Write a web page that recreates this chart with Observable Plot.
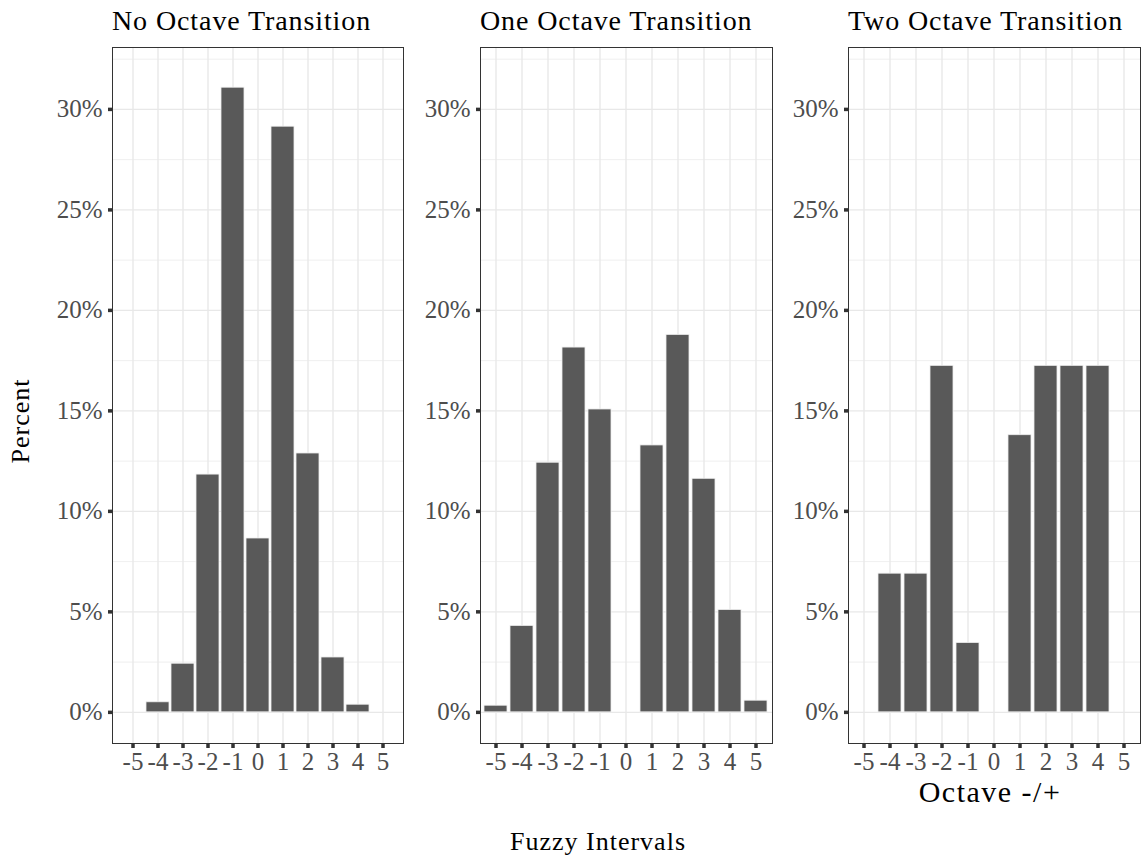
<!DOCTYPE html>
<html><head><meta charset="utf-8">
<script src="https://cdn.jsdelivr.net/npm/d3@7"></script>
<script src="https://cdn.jsdelivr.net/npm/@observablehq/plot@0.6"></script>
<style>
html,body{margin:0;padding:0;background:#fff;}
#wrap{position:relative;width:1145px;height:858px;overflow:hidden;font-family:"Liberation Serif",serif;}
.lbl{position:absolute;white-space:nowrap;line-height:1;color:#000;}
.panel{position:absolute;top:0;}
</style></head><body><div id="wrap"></div>
<script>
// ---- data ----
const intervals = [-5,-4,-3,-2,-1,0,1,2,3,4,5];
const panelTitles = ["No Octave Transition","One Octave Transition","Two Octave Transition"];
const noOctave  = [0, 0.50, 2.42, 11.83, 31.08, 8.65, 29.14, 12.88, 2.73, 0.38, 0];
const oneOctave = [0.33, 4.30, 12.42, 18.15, 15.07, 0, 13.28, 18.78, 11.62, 5.09, 0.58];
const twoOctave = [0, 6.90, 6.90, 17.24, 3.45, 0, 13.79, 17.24, 17.24, 17.24, 0];
const yTicks = [0,5,10,15,20,25,30];
const yMinor = [2.5,7.5,12.5,17.5,22.5,27.5,32.5];
const xTitle = "Fuzzy Intervals";
const yTitle = "Percent";
const tagTitle = "Octave -/+";

// ---- layout ----
const series = [noOctave, oneOctave, twoOctave];
const panelLeft = [112, 480, 848];
const panelWidth = [291, 292, 292];
const ML = 70, MR = 5, MT = 47, MB = 40, H = 783;
const wrap = document.getElementById("wrap");

series.forEach((vals, i) => {
  const data = intervals.map((k, j) => ({k, v: vals[j]})).filter(d => d.v > 0);
  const chart = Plot.plot({
    width: ML + panelWidth[i] + MR,
    height: H,
    marginLeft: ML, marginRight: MR, marginTop: MT, marginBottom: MB,
    style: {fontFamily: "Liberation Serif, serif", fontSize: "25px", color: "#4d4d4d", background: "transparent", overflow: "visible"},
    x: {type: "band", domain: intervals, paddingInner: 0.1, paddingOuter: 0.15, axis: null},
    y: {domain: [-1.55, 33.08], axis: null},
    marks: [
      Plot.gridY(yMinor, {stroke: "#ebebeb", strokeOpacity: 1, strokeWidth: 0.8}),
      Plot.gridY(yTicks, {stroke: "#e8e8e8", strokeOpacity: 1, strokeWidth: 1.4}),
      Plot.gridX(intervals, {stroke: "#e8e8e8", strokeOpacity: 1, strokeWidth: 1.4}),
      Plot.barY(data, {x: "k", y: "v", fill: "#595959", stroke: "#eeeeee", strokeWidth: 0.8}),
      Plot.frame({stroke: "#333333", strokeWidth: 1}),
      Plot.axisY(yTicks, {tickSize: 4, tickPadding: 6, strokeWidth: 3.5, stroke: "#333333", fill: "#4d4d4d",
        tickFormat: d => d + "%", fontSize: 25, label: null}),
      Plot.axisX(intervals, {tickSize: 5, tickPadding: 4, strokeWidth: 3.5, stroke: "#333333", fill: "#4d4d4d",
        tickFormat: d => String(d), fontSize: 25, label: null})
    ]
  });
  chart.classList.add("panel");
  chart.style.left = (panelLeft[i] - ML) + "px";
  wrap.appendChild(chart);

  const t = document.createElement("div");
  t.className = "lbl";
  t.textContent = panelTitles[i];
  t.style.cssText = `left:${panelLeft[i]}px;top:7px;font-size:28px;letter-spacing:0.9px;`;
  wrap.appendChild(t);
});

function label(text, css) {
  const d = document.createElement("div");
  d.className = "lbl";
  d.textContent = text;
  d.style.cssText = css;
  wrap.appendChild(d);
}
label(xTitle, "left:598px;top:829px;font-size:26px;letter-spacing:1px;transform:translateX(-50%);");
label(tagTitle, "left:990px;top:777px;font-size:30px;letter-spacing:1.5px;transform:translateX(-50%);");
label(yTitle, "left:21px;top:421px;font-size:26px;letter-spacing:1px;transform:translate(-50%,-50%) rotate(-90deg);");
</script>
</body></html>
